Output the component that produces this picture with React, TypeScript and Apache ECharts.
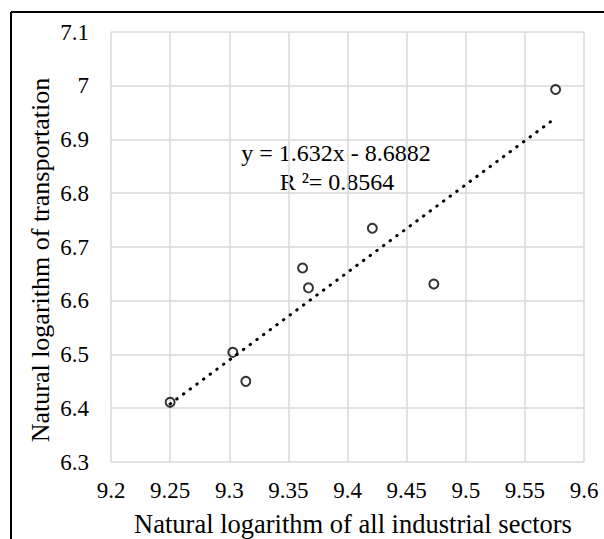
import React, { useEffect, useRef } from "react";
import * as echarts from "echarts";

const xValues = [9.25, 9.303, 9.314, 9.362, 9.367, 9.421, 9.473, 9.576];
const yValues = [6.411, 6.504, 6.45, 6.661, 6.624, 6.735, 6.631, 6.993];
const trendX = [9.25, 9.576];
const trendY = [6.408, 6.94];
const equationText = "y = 1.632x - 8.6882";
const r2Text = "R ²= 0.8564";
const xTitle = "Natural logarithm of all industrial sectors";
const yTitle = "Natural logarithm of transportation";

const FONT = "Liberation Serif";

export default function App() {
  const ref = useRef<HTMLDivElement>(null);
  useEffect(() => {
    if (!ref.current) return;
    const chart = echarts.init(ref.current, null, { renderer: "svg" });
    const points = xValues.map((x, i) => [x, yValues[i]]);
    const trend = trendX.map((x, i) => [x, trendY[i]]);
    chart.setOption({
      animation: false,
      backgroundColor: "#fff",
      textStyle: { fontFamily: FONT, color: "#000" },
      grid: { left: 111, right: 20, top: 32, bottom: 77 },
      xAxis: {
        type: "value",
        min: 9.2,
        max: 9.6,
        interval: 0.05,
        axisLine: { show: false },
        axisTick: { show: false },
        splitLine: { show: true, lineStyle: { color: "#d9d9d9", width: 1.5 } },
        axisLabel: {
          margin: 17,
          fontFamily: FONT,
          fontSize: 23,
          color: "#000",
          formatter: (v: number) => String(parseFloat(v.toFixed(2))),
        },
      },
      yAxis: {
        type: "value",
        min: 6.3,
        max: 7.1,
        interval: 0.1,
        axisLine: { show: false },
        axisTick: { show: false },
        splitLine: { show: true, lineStyle: { color: "#d9d9d9", width: 1.5 } },
        axisLabel: {
          margin: 22,
          fontFamily: FONT,
          fontSize: 23,
          color: "#000",
          formatter: (v: number) => String(parseFloat(v.toFixed(1))),
        },
      },
      series: [
        {
          type: "line",
          data: trend,
          symbol: "none",
          z: 1,
          lineStyle: { color: "#000", width: 3, type: [0.5, 7.8], cap: "round" },
        },
        {
          type: "scatter",
          data: points,
          symbol: "circle",
          symbolSize: 9,
          z: 2,
          itemStyle: { color: "rgba(0,0,0,0)", borderColor: "#000", borderWidth: 2 },
        },
      ],
      graphic: [
        {
          type: "line",
          shape: { x1: 11, y1: 12, x2: 604, y2: 12 },
          style: { stroke: "#000", lineWidth: 2 },
        },
        {
          type: "line",
          shape: { x1: 11, y1: 12, x2: 11, y2: 539 },
          style: { stroke: "#000", lineWidth: 2 },
        },
        {
          type: "text",
          x: 336,
          y: 153,
          style: { text: equationText, fontFamily: FONT, fontSize: 24, fill: "#000", align: "center", verticalAlign: "middle" },
        },
        {
          type: "text",
          x: 337,
          y: 182,
          style: { text: r2Text, fontFamily: FONT, fontSize: 24, fill: "#000", align: "center", verticalAlign: "middle" },
        },
        {
          type: "text",
          x: 353,
          y: 524,
          style: { text: xTitle, fontFamily: FONT, fontSize: 26.5, fill: "#000", align: "center", verticalAlign: "middle" },
        },
        {
          type: "text",
          x: 40,
          y: 260,
          rotation: Math.PI / 2,
          style: { text: yTitle, fontFamily: FONT, fontSize: 26, fill: "#000", align: "center", verticalAlign: "middle" },
        },
      ],
    });
    return () => chart.dispose();
  }, []);
  return (
    <div
      ref={ref}
      style={{ position: "fixed", left: 0, top: 0, width: 604, height: 539, background: "#fff" }}
    />
  );
}
